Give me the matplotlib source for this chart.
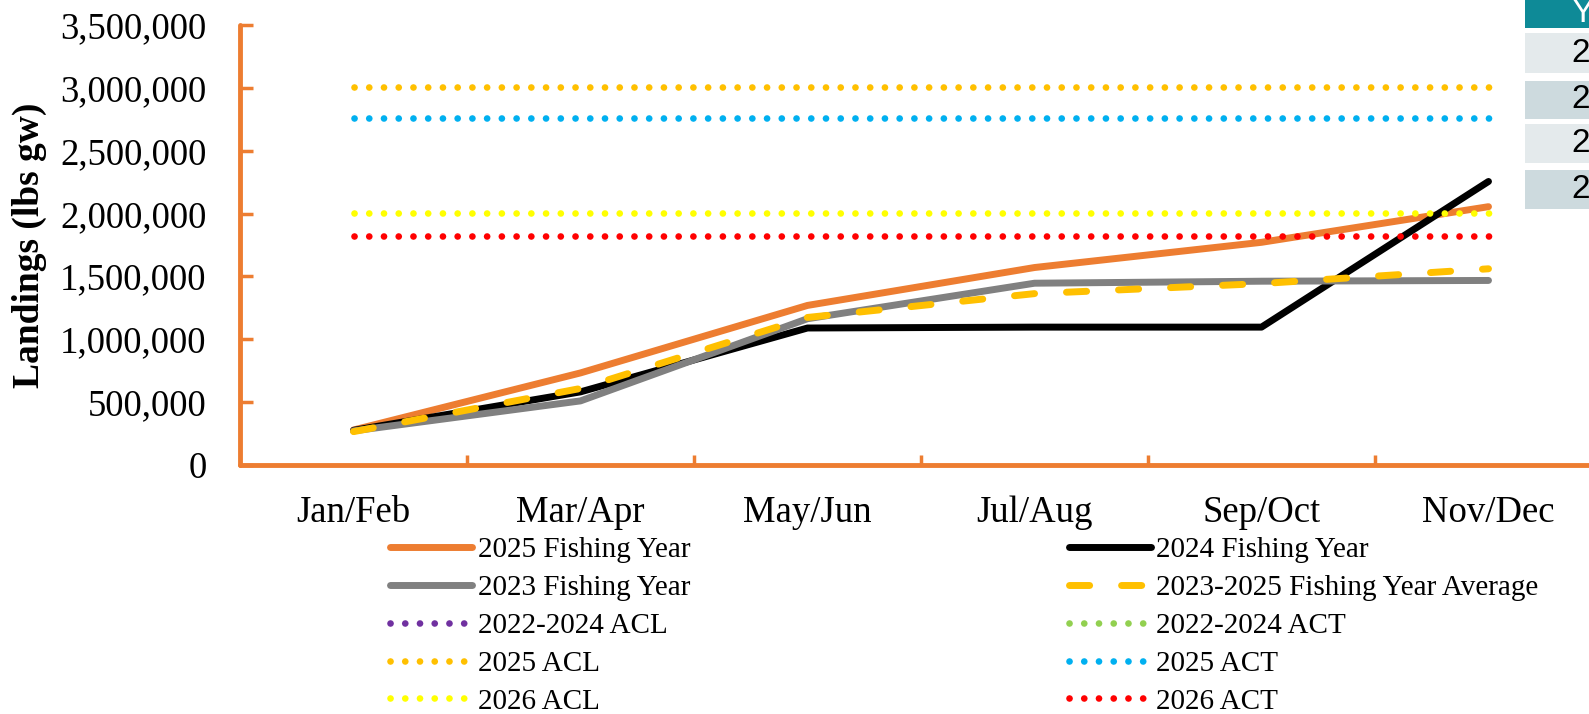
import numpy as np
import matplotlib
matplotlib.use("Agg")
import matplotlib.pyplot as plt
from matplotlib.patches import Rectangle
from matplotlib.ticker import FuncFormatter, MultipleLocator, FixedLocator

W, H = 1589, 714

# data (lbs gw)
periods = ["Jan/Feb", "Mar/Apr", "May/Jun", "Jul/Aug", "Sep/Oct", "Nov/Dec"]
fy2025 = [275000, 730000, 1268000, 1570000, 1771000, 2055000]
fy2024 = [272000, 579000, 1088000, 1095000, 1095000, 2256000]
fy2023 = [268000, 507000, 1162000, 1445000, 1461000, 1467000]
fy_avg = [262000, 606000, 1172000, 1362000, 1442000, 1560000]
acl_2022_2024 = [np.nan] * 6
act_2022_2024 = [np.nan] * 6
acl_2025 = [3010000] * 6
act_2025 = [2760000] * 6
acl_2026 = [2007000] * 6
act_2026 = [1824000] * 6

table_header = "Year"
table_rows = ["2023", "2024", "2025", "2026"]

ORANGE = "#ED7D31"
plt.rcParams["font.family"] = ["Liberation Serif", "DejaVu Serif"]

fig = plt.figure(figsize=(W / 100, H / 100), dpi=100)
# axes runs a bit past the right edge, like the cropped original
ax = fig.add_axes([240 / W, 1 - 464.5 / H, 1362 / W, (464.5 - 25.4) / H])

x = np.arange(len(periods))
solid = dict(lw=5, solid_capstyle="round", solid_joinstyle="round")
dots = dict(lw=4.8, ls=(0, (0.01, 2.2)), dash_capstyle="round")

series = [
    (fy2025, "2025 Fishing Year", ORANGE, solid),
    (fy2024, "2024 Fishing Year", "black", solid),
    (fy2023, "2023 Fishing Year", "#808080", solid),
    (fy_avg, "2023-2025 Fishing Year Average", "#FFC000",
     dict(lw=5, ls=(0, (2.9, 4.6)), dash_capstyle="round")),
    (acl_2022_2024, "2022-2024 ACL", "#7030A0", dots),
    (act_2022_2024, "2022-2024 ACT", "#92D050", dots),
    (acl_2025, "2025 ACL", "#FFC000", dots),
    (act_2025, "2025 ACT", "#00B0F0", dots),
    (acl_2026, "2026 ACL", "#FFFF00", dots),
    (act_2026, "2026 ACT", "#FF0000", dots),
]
handles = {}
for i, (vals, lab, col, st) in enumerate(series):
    ln, = ax.plot(x, vals, color=col, label=lab, zorder=2 + i, **st)
    handles[lab] = ln

ax.set_xlim(-0.5, 5.5)
ax.set_ylim(0, 3500000)
ax.yaxis.set_major_locator(MultipleLocator(500000))
ax.yaxis.set_major_formatter(FuncFormatter(lambda v, p: f"{int(v):,}"))
ax.set_xticks(x)
ax.set_xticklabels(periods)
ax.xaxis.set_minor_locator(FixedLocator([0.5, 1.5, 2.5, 3.5, 4.5]))

for s in ["top", "right"]:
    ax.spines[s].set_visible(False)
for s in ["left", "bottom"]:
    ax.spines[s].set_color(ORANGE)
    ax.spines[s].set_linewidth(3.5)
    ax.spines[s].set_capstyle("round")

ax.tick_params(axis="y", direction="in", length=9, width=2.5, color=ORANGE,
               labelsize=26.5, pad=24)
ax.tick_params(axis="x", which="major", length=0, labelsize=26.5, pad=22)
ax.tick_params(axis="x", which="minor", direction="in", length=7.5, width=2.5,
               color=ORANGE)

ax.set_ylabel("Landings (lbs gw)", fontsize=27, fontweight="bold")
ax.yaxis.set_label_coords(-0.142, 0.5)

# legend, two columns
left = ["2025 Fishing Year", "2023 Fishing Year", "2022-2024 ACL", "2025 ACL", "2026 ACL"]
right = ["2024 Fishing Year", "2023-2025 Fishing Year Average", "2022-2024 ACT",
         "2025 ACT", "2026 ACT"]
lkw = dict(loc="upper left", frameon=False, fontsize=21, borderpad=0,
           borderaxespad=0, handlelength=2.8, handletextpad=0.2, labelspacing=0.39)
leg1 = fig.legend([handles[k] for k in left], left,
                  bbox_to_anchor=(390 / W, 1 - 537 / H), **lkw)
leg2 = fig.legend([handles[k] for k in right], right,
                  bbox_to_anchor=(1069 / W, 1 - 537 / H), **lkw)

# partial table at top right (cut off by the crop)
cells = [(0, 28, "#0E8A97", "white"), (33, 73, "#E4EAEC", "black"),
         (81, 119, "#CDDADE", "black"), (124, 163, "#E4EAEC", "black"),
         (170, 209, "#CDDADE", "black")]
labels = [table_header] + table_rows
for (y0, y1, fc, tc), txt in zip(cells, labels):
    fig.add_artist(Rectangle((1525 / W, 1 - y1 / H), 80 / W, (y1 - y0) / H,
                             transform=fig.transFigure, facecolor=fc,
                             edgecolor="none"))
    fig.text(1571 / W, 1 - (y0 + y1) / 2 / H, txt, color=tc, fontsize=24,
             family=["Liberation Sans Narrow", "Liberation Sans"],
             ha="left", va="center")

fig.savefig("out.png", dpi=100)
